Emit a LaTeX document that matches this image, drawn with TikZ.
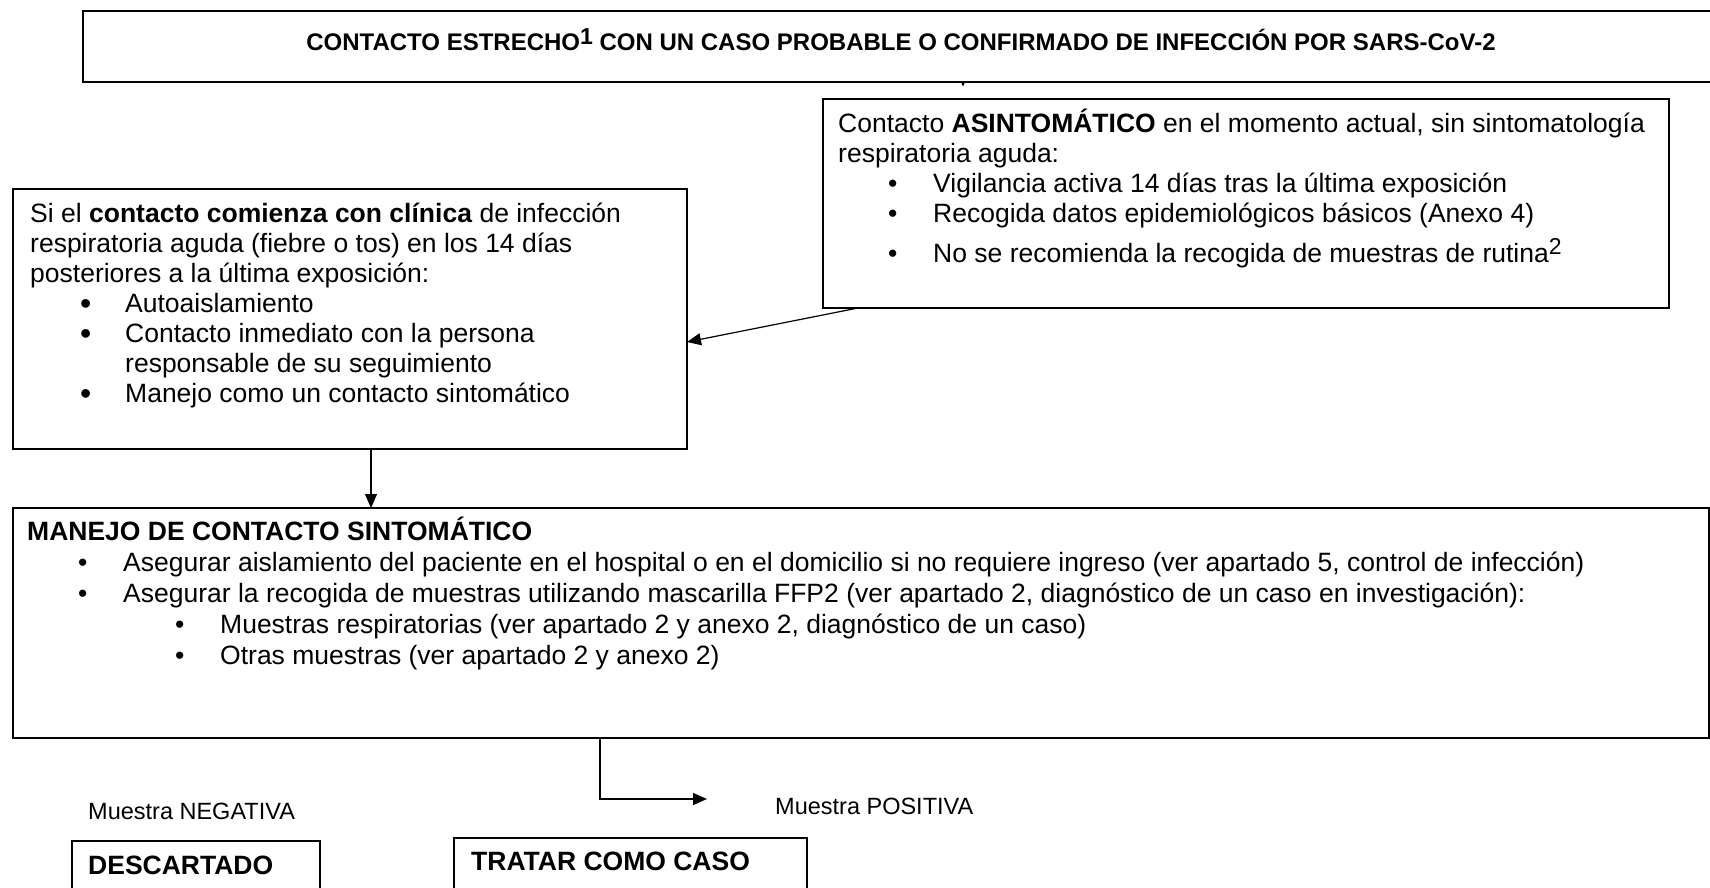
\documentclass[tikz,border=0pt]{standalone}
\usepackage{fontspec}
\setmainfont{Liberation Sans}
\usetikzlibrary{arrows.meta}
\newcommand{\bodyfont}{\fontsize{26.5}{30}\selectfont\lineskiplimit=-40pt\relax}
\newcommand{\manejofont}{\fontsize{26.5}{31}\selectfont\lineskiplimit=-40pt\relax}
\newcommand{\topstrut}{\rule{0pt}{25pt}}
\newcommand{\itm}[1]{\hspace*{#1}\makebox[45pt][l]{\textbullet}}
\newcommand{\bigitm}[1]{\hspace*{#1}\makebox[45pt][l]{\smash{\raisebox{-2pt}{\fontsize{32}{30}\selectfont\textbullet}}}}
\newcommand{\supnum}[2]{\smash{\raisebox{#1}{\fontsize{23}{23}\selectfont #2}}}
\tikzset{
  box/.style={draw, rectangle, anchor=north west, inner sep=0pt, outer sep=0pt, line width=1.2pt},
  boxtxt/.style={anchor=north west, inner sep=0pt, align=left, font=\bodyfont},
  conn/.style={line width=1.2pt, -{Triangle[length=14pt,width=12pt]}}
}
\begin{document}
\begin{tikzpicture}[x=1pt,y=-1pt]
\useasboundingbox (0,0) rectangle (1710,887);
\clip (0,0) rectangle (1710,887);
% first box
\node[box, line width=2pt, minimum width=1636pt, minimum height=71pt] (top) at (83,10.7) {};
\node[anchor=base, inner sep=0pt, font=\fontsize{24}{28}\selectfont\bfseries] (toptxt) at (901,50)
  {CONTACTO ESTRECHO\supnum{6pt}{1} CON UN CASO PROBABLE O CONFIRMADO DE INFECCIÓN POR SARS-CoV-2};
\draw[line width=1.2pt, -{Triangle[length=4pt,width=3pt]}] ([xshift=62pt]top.south) -- ++(0,5);
% asintomatico
\node[box, minimum width=846pt, minimum height=209pt] (asint) at (823,99) {};
\node[boxtxt] (asinttxt) at (838,107) {\topstrut Contacto \textbf{ASINTOMÁTICO} en el momento actual, sin sintomatología\\
  respiratoria aguda:\\
  \itm{50pt}Vigilancia activa 14 días tras la última exposición\\
  \itm{50pt}Recogida datos epidemiológicos básicos (Anexo 4)\\[10pt]
  \itm{50pt}No se recomienda la recogida de muestras de rutina\supnum{8pt}{2}};
% sintomatico
\node[box, minimum width=674pt, minimum height=260pt] (symp) at (13,189) {};
\node[boxtxt] (symptxt) at (30,197) {\topstrut Si el \textbf{contacto comienza con clínica} de infección\\
  respiratoria aguda (fiebre o tos) en los 14 días\\
  posteriores a la última exposición:\\
  \bigitm{50pt}Autoaislamiento\\
  \bigitm{50pt}Contacto inmediato con la persona\\
  \hspace*{95pt}responsable de su seguimiento\\
  \bigitm{50pt}Manejo como un contacto sintomático};
\draw[conn] ([xshift=35pt]asint.south west) -- ([yshift=-23pt]symp.east);
% manejo
\node[box, line width=1.5pt, minimum width=1696pt, minimum height=230pt] (manejo) at (13,508) {};
\node[boxtxt, font=\manejofont] (manejotxt) at (27,515) {\topstrut\textbf{MANEJO DE CONTACTO SINTOMÁTICO}\\
  \itm{51pt}Asegurar aislamiento del paciente en el hospital o en el domicilio si no requiere ingreso (ver apartado 5, control de infección)\\
  \itm{51pt}Asegurar la recogida de muestras utilizando mascarilla FFP2 (ver apartado 2, diagnóstico de un caso en investigación):\\
  \itm{148pt}Muestras respiratorias (ver apartado 2 y anexo 2, diagnóstico de un caso)\\
  \itm{148pt}Otras muestras (ver apartado 2 y anexo 2)};
\coordinate (dn) at ([xshift=21pt]symp.south);
\draw[conn] (dn) -- (dn |- manejo.north);
% resultado
\node[anchor=base west, inner sep=0pt, font=\fontsize{23.5}{28}\selectfont] (neglbl) at (88,819) {Muestra NEGATIVA};
\node[anchor=base west, inner sep=0pt, font=\fontsize{23.5}{28}\selectfont] (poslbl) at (775,814) {Muestra POSITIVA};
\coordinate (posstart) at ([xshift=480pt]manejo.south west);
\coordinate (poselbow) at ([xshift=587pt]manejo.south west);
\coordinate (postip) at (707,799);
\draw[line width=2.2pt] (posstart) -- (poselbow);
\draw[conn, line width=1.3pt] (poselbow) |- (postip);
\node[box, minimum width=248pt, minimum height=100pt] (descbox) at (72,841) {};
\node[anchor=base west, inner sep=0pt, font=\bodyfont\bfseries] (desctxt) at (88,874) {DESCARTADO};
\node[box, minimum width=353pt, minimum height=100pt] (casobox) at (454,838) {};
\node[anchor=base west, inner sep=0pt, font=\bodyfont\bfseries] (casotxt) at (471,870) {TRATAR COMO CASO};
\end{tikzpicture}
\end{document}
